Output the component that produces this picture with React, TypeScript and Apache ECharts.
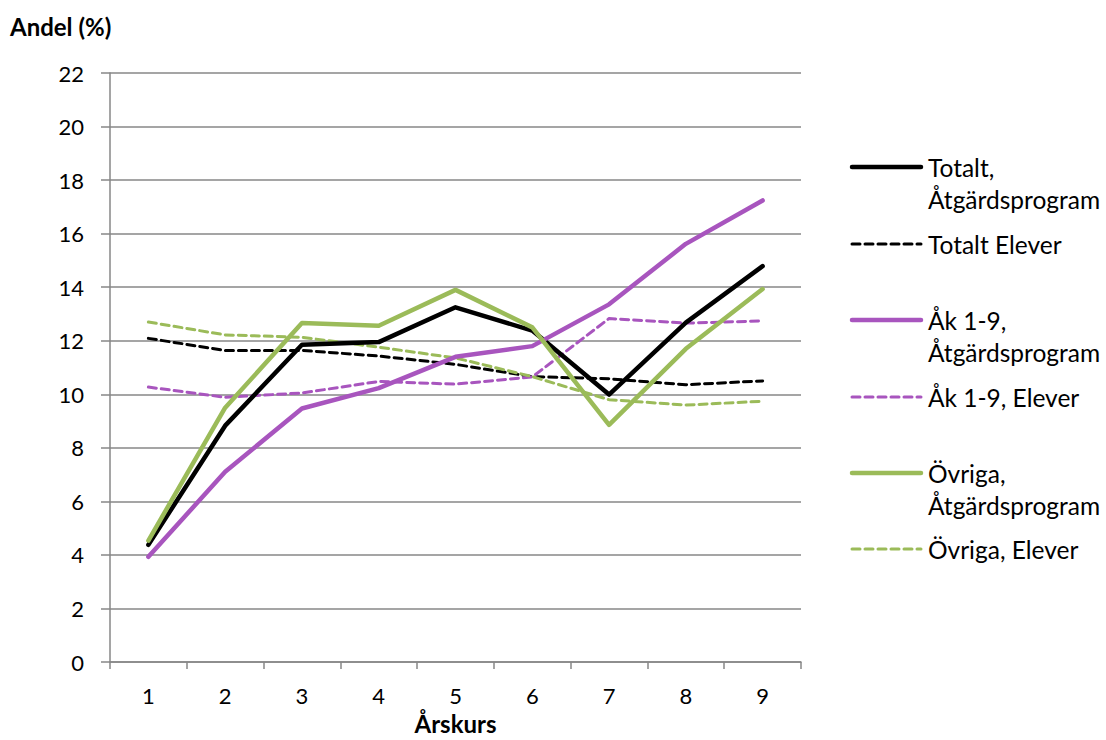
import React, { useEffect, useRef } from "react";
import * as echarts from "echarts";

const categories = ["1", "2", "3", "4", "5", "6", "7", "8", "9"];

const totaltAtgard = [4.38, 8.83, 11.85, 11.95, 13.25, 12.38, 9.99, 12.68, 14.79];
const totaltElever = [12.09, 11.64, 11.64, 11.43, 11.12, 10.66, 10.58, 10.36, 10.5];
const ak19Atgard = [3.93, 7.11, 9.47, 10.23, 11.4, 11.8, 13.36, 15.62, 17.24];
const ak19Elever = [10.27, 9.89, 10.05, 10.48, 10.38, 10.65, 12.83, 12.66, 12.74];
const ovrigaAtgard = [4.54, 9.5, 12.66, 12.56, 13.9, 12.5, 8.86, 11.7, 13.93];
const ovrigaElever = [12.7, 12.22, 12.13, 11.76, 11.36, 10.66, 9.8, 9.6, 9.74];

const seriesNames = [
  "Totalt, Åtgärdsprogram",
  "Totalt Elever",
  "Åk 1-9, Åtgärdsprogram",
  "Åk 1-9, Elever",
  "Övriga, Åtgärdsprogram",
  "Övriga, Elever",
];
const legendLabels = [
  "Totalt,\nÅtgärdsprogram",
  "Totalt Elever",
  "Åk 1-9,\nÅtgärdsprogram",
  "Åk 1-9, Elever",
  "Övriga,\nÅtgärdsprogram",
  "Övriga, Elever",
];

const BLACK = "#000000";
const PURPLE = "#A855BE";
const GREEN = "#9BBB59";
const GRID = "#878787";
const FONT = "Lato";

export default function App() {
  const ref = useRef<HTMLDivElement>(null);

  useEffect(() => {
    if (!ref.current) return;
    const chart = echarts.init(ref.current, undefined, { renderer: "svg" });

    const datasets = [totaltAtgard, totaltElever, ak19Atgard, ak19Elever, ovrigaAtgard, ovrigaElever];
    const colors = [BLACK, BLACK, PURPLE, PURPLE, GREEN, GREEN];
    const dashed = [false, true, false, true, false, true];

    const series = datasets.map((d, i) => ({
      name: seriesNames[i],
      type: "line",
      data: d,
      symbol: "none",
      lineStyle: {
        color: colors[i],
        width: dashed[i] ? 3 : 4.5,
        type: dashed[i] ? [8, 5] : "solid",
        cap: "round",
        join: "round",
      },
      itemStyle: { color: colors[i] },
      z: dashed[i] ? 2 : 3,
    }));

    const legendY = [167, 244, 320, 397, 473, 549];
    const legendGraphics: any[] = [];
    legendLabels.forEach((lbl, i) => {
      legendGraphics.push({
        type: "line",
        shape: { x1: 852, y1: legendY[i], x2: 921, y2: legendY[i] },
        style: {
          stroke: colors[i],
          lineWidth: dashed[i] ? 3 : 4.5,
          lineDash: dashed[i] ? [8, 5] : null,
          lineCap: "round",
        },
      });
      legendGraphics.push({
        type: "text",
        x: 928,
        y: legendY[i] - 16,
        style: {
          text: lbl,
          font: `24.5px ${FONT}`,
          fill: "#000",
          lineHeight: 32,
          verticalAlign: "top",
          align: "left",
        },
      });
    });

    chart.setOption({
      animation: false,
      backgroundColor: "#ffffff",
      title: {
        text: "Andel (%)",
        left: 10,
        top: 14,
        padding: 0,
        textStyle: { fontFamily: FONT, fontWeight: "bold", fontSize: 24, color: "#000" },
      },
      grid: { left: 110, right: 305, top: 73, bottom: 68, containLabel: false },
      xAxis: {
        type: "category",
        data: categories,
        boundaryGap: true,
        name: "Årskurs",
        nameLocation: "middle",
        nameGap: 44,
        nameTextStyle: { fontFamily: FONT, fontWeight: "bold", fontSize: 24, color: "#000" },
        axisLine: { show: true, lineStyle: { color: GRID, width: 1.5 } },
        axisTick: { show: true, alignWithLabel: false, length: 7, lineStyle: { color: GRID, width: 1.5 } },
        axisLabel: { fontFamily: FONT, fontSize: 22, color: "#000", margin: 22 },
        splitLine: { show: false },
      },
      yAxis: {
        type: "value",
        min: 0,
        max: 22,
        interval: 2,
        axisLine: { show: true, lineStyle: { color: GRID, width: 1.5 } },
        axisTick: { show: true, length: 9, lineStyle: { color: GRID, width: 1.5 } },
        axisLabel: { fontFamily: FONT, fontSize: 22, color: "#000", margin: 26 },
        splitLine: { show: true, lineStyle: { color: GRID, width: 1.5 } },
      },
      series,
      graphic: legendGraphics,
    });

    return () => chart.dispose();
  }, []);

  return (
    <div
      ref={ref}
      style={{ position: "absolute", left: 0, top: 0, width: 1106, height: 740, background: "#fff" }}
    />
  );
}
